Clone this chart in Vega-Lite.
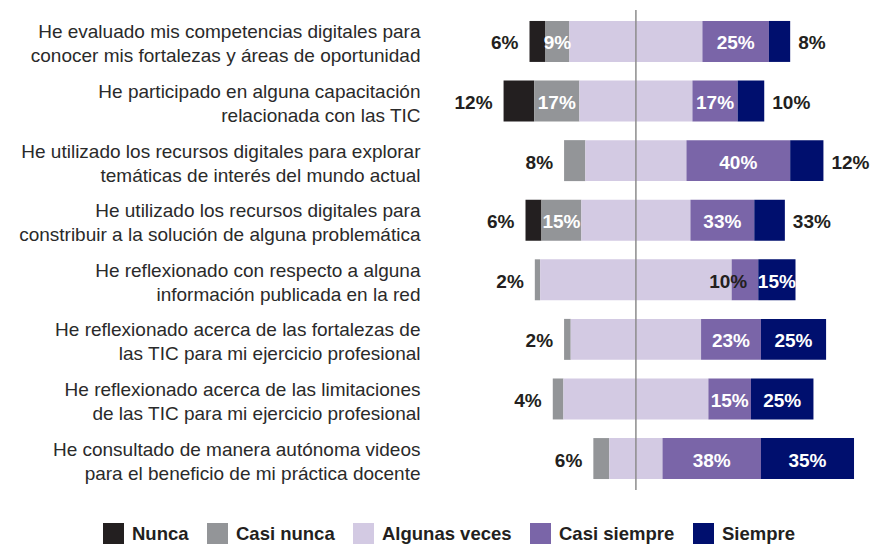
{
  "$schema": "https://vega.github.io/schema/vega-lite/v6.json",
  "autosize": {"type": "none"},
  "width": 399,
  "height": 480,
  "padding": {"left": 463, "top": 10, "right": 12, "bottom": 56},
  "background": "white",
  "config": {"view": {"stroke": null}},
  "data": {"values": [
    {"q": "He evaluado mis competencias digitales para|conocer mis fortalezas y áreas de oportunidad", "cat": "Nunca", "pct": 6, "label": "6%"},
    {"q": "He evaluado mis competencias digitales para|conocer mis fortalezas y áreas de oportunidad", "cat": "Casi nunca", "pct": 9, "label": "9%"},
    {"q": "He evaluado mis competencias digitales para|conocer mis fortalezas y áreas de oportunidad", "cat": "Algunas veces", "pct": 50, "label": ""},
    {"q": "He evaluado mis competencias digitales para|conocer mis fortalezas y áreas de oportunidad", "cat": "Casi siempre", "pct": 25, "label": "25%"},
    {"q": "He evaluado mis competencias digitales para|conocer mis fortalezas y áreas de oportunidad", "cat": "Siempre", "pct": 8, "label": "8%"},
    {"q": "He participado en alguna capacitación|relacionada con las TIC", "cat": "Nunca", "pct": 11.5, "label": "12%"},
    {"q": "He participado en alguna capacitación|relacionada con las TIC", "cat": "Casi nunca", "pct": 17, "label": "17%"},
    {"q": "He participado en alguna capacitación|relacionada con las TIC", "cat": "Algunas veces", "pct": 42.5, "label": ""},
    {"q": "He participado en alguna capacitación|relacionada con las TIC", "cat": "Casi siempre", "pct": 17, "label": "17%"},
    {"q": "He participado en alguna capacitación|relacionada con las TIC", "cat": "Siempre", "pct": 10, "label": "10%"},
    {"q": "He utilizado los recursos digitales para explorar|temáticas de interés del mundo actual", "cat": "Casi nunca", "pct": 8, "label": "8%"},
    {"q": "He utilizado los recursos digitales para explorar|temáticas de interés del mundo actual", "cat": "Algunas veces", "pct": 38, "label": ""},
    {"q": "He utilizado los recursos digitales para explorar|temáticas de interés del mundo actual", "cat": "Casi siempre", "pct": 39, "label": "40%"},
    {"q": "He utilizado los recursos digitales para explorar|temáticas de interés del mundo actual", "cat": "Siempre", "pct": 12.5, "label": "12%"},
    {"q": "He utilizado los recursos digitales para|constribuir a la solución de alguna problemática", "cat": "Nunca", "pct": 6, "label": "6%"},
    {"q": "He utilizado los recursos digitales para|constribuir a la solución de alguna problemática", "cat": "Casi nunca", "pct": 15, "label": "15%"},
    {"q": "He utilizado los recursos digitales para|constribuir a la solución de alguna problemática", "cat": "Algunas veces", "pct": 41, "label": ""},
    {"q": "He utilizado los recursos digitales para|constribuir a la solución de alguna problemática", "cat": "Casi siempre", "pct": 24, "label": "33%"},
    {"q": "He utilizado los recursos digitales para|constribuir a la solución de alguna problemática", "cat": "Siempre", "pct": 11.5, "label": "33%"},
    {"q": "He reflexionado con respecto a alguna|información publicada en la red", "cat": "Casi nunca", "pct": 2, "label": "2%"},
    {"q": "He reflexionado con respecto a alguna|información publicada en la red", "cat": "Algunas veces", "pct": 72, "label": ""},
    {"q": "He reflexionado con respecto a alguna|información publicada en la red", "cat": "Casi siempre", "pct": 10, "label": "10%"},
    {"q": "He reflexionado con respecto a alguna|información publicada en la red", "cat": "Siempre", "pct": 14, "label": "15%"},
    {"q": "He reflexionado acerca de las fortalezas de|las TIC para mi ejercicio profesional", "cat": "Casi nunca", "pct": 2.5, "label": "2%"},
    {"q": "He reflexionado acerca de las fortalezas de|las TIC para mi ejercicio profesional", "cat": "Algunas veces", "pct": 49, "label": ""},
    {"q": "He reflexionado acerca de las fortalezas de|las TIC para mi ejercicio profesional", "cat": "Casi siempre", "pct": 22.5, "label": "23%"},
    {"q": "He reflexionado acerca de las fortalezas de|las TIC para mi ejercicio profesional", "cat": "Siempre", "pct": 24.5, "label": "25%"},
    {"q": "He reflexionado acerca de las limitaciones|de las TIC para mi ejercicio profesional", "cat": "Casi nunca", "pct": 4, "label": "4%"},
    {"q": "He reflexionado acerca de las limitaciones|de las TIC para mi ejercicio profesional", "cat": "Algunas veces", "pct": 54.5, "label": ""},
    {"q": "He reflexionado acerca de las limitaciones|de las TIC para mi ejercicio profesional", "cat": "Casi siempre", "pct": 16, "label": "15%"},
    {"q": "He reflexionado acerca de las limitaciones|de las TIC para mi ejercicio profesional", "cat": "Siempre", "pct": 23.5, "label": "25%"},
    {"q": "He consultado de manera autónoma videos|para el beneficio de mi práctica docente", "cat": "Casi nunca", "pct": 6, "label": "6%"},
    {"q": "He consultado de manera autónoma videos|para el beneficio de mi práctica docente", "cat": "Algunas veces", "pct": 20, "label": ""},
    {"q": "He consultado de manera autónoma videos|para el beneficio de mi práctica docente", "cat": "Casi siempre", "pct": 37, "label": "38%"},
    {"q": "He consultado de manera autónoma videos|para el beneficio de mi práctica docente", "cat": "Siempre", "pct": 35, "label": "35%"}
  ]},
  "transform": [
    {"calculate": "indexof(['Nunca','Casi nunca','Algunas veces','Casi siempre','Siempre'], datum.cat)", "as": "ord"},
    {"calculate": "datum.ord < 2 ? datum.pct : (datum.ord == 2 ? datum.pct / 2 : 0)", "as": "leftpart"},
    {"joinaggregate": [{"op": "sum", "field": "leftpart", "as": "off"}], "groupby": ["q"]},
    {"window": [{"op": "sum", "field": "pct", "as": "cum"}], "sort": [{"field": "ord", "order": "ascending"}], "groupby": ["q"], "frame": [null, 0]},
    {"calculate": "datum.cum - datum.off", "as": "x1"},
    {"calculate": "datum.x1 - datum.pct", "as": "x0"},
    {"calculate": "(datum.x0 + datum.x1) / 2", "as": "mid"}
  ],
  "encoding": {
    "y": {
      "field": "q", "type": "nominal", "sort": null,
      "scale": {"paddingInner": 0.3125, "paddingOuter": 0.184},
      "axis": {"title": null, "domain": false, "ticks": false, "labelExpr": "split(datum.value, '|')", "labelFont": "Liberation Sans", "labelFontSize": 19, "labelColor": "#2a2a2a", "labelPadding": 43, "labelLimit": 0, "labelLineHeight": 24, "labelOffset": -9}
    }
  },
  "layer": [
    {
      "mark": {"type": "bar"},
      "encoding": {
        "x": {"field": "x0", "type": "quantitative", "scale": {"domain": [-65, 85], "nice": false, "zero": false}, "axis": null},
        "x2": {"field": "x1"},
        "color": {
          "field": "cat", "type": "nominal",
          "scale": {"domain": ["Nunca", "Casi nunca", "Algunas veces", "Casi siempre", "Siempre"], "range": ["#231f20", "#939598", "#d3cae3", "#7a65a8", "#000f6e"]},
          "legend": {"orient": "none", "legendX": -360, "legendY": 513, "direction": "horizontal", "title": null, "symbolType": "square", "symbolSize": 441, "symbolStrokeWidth": 0, "symbolOpacity": 1, "labelFont": "Liberation Sans", "labelFontSize": 18.5, "labelFontWeight": "bold", "labelColor": "#231f20", "labelOffset": 8, "columnPadding": 18}
        }
      }
    },
    {
      "transform": [{"filter": "datum.cat === 'Nunca' || (datum.cat === 'Casi nunca' && datum.pct < 9)"}],
      "mark": {"type": "text", "align": "right", "baseline": "middle", "dx": -11, "dy": 2, "font": "Liberation Sans", "fontSize": 19, "fontWeight": "bold", "color": "#231f20"},
      "encoding": {"x": {"field": "x0", "type": "quantitative"}, "text": {"field": "label"}}
    },
    {
      "transform": [{"filter": "(datum.cat === 'Casi nunca' && datum.pct >= 9) || (datum.cat === 'Casi siempre' && datum.pct >= 12) || (datum.cat === 'Siempre' && datum.pct >= 13)"}],
      "mark": {"type": "text", "align": "center", "baseline": "middle", "dy": 2, "font": "Liberation Sans", "fontSize": 19, "fontWeight": "bold", "color": "white"},
      "encoding": {"x": {"field": "mid", "type": "quantitative"}, "text": {"field": "label"}}
    },
    {
      "transform": [{"filter": "datum.cat === 'Siempre' && datum.pct < 13"}],
      "mark": {"type": "text", "align": "left", "baseline": "middle", "dx": 8, "dy": 2, "font": "Liberation Sans", "fontSize": 19, "fontWeight": "bold", "color": "#231f20"},
      "encoding": {"x": {"field": "x1", "type": "quantitative"}, "text": {"field": "label"}}
    },
    {
      "transform": [{"filter": "datum.cat === 'Casi siempre' && datum.pct < 12"}],
      "mark": {"type": "text", "align": "right", "baseline": "middle", "dx": -11, "dy": 2, "font": "Liberation Sans", "fontSize": 19, "fontWeight": "bold", "color": "#231f20"},
      "encoding": {"x": {"field": "x1", "type": "quantitative"}, "text": {"field": "label"}}
    },
    {
      "transform": [{"aggregate": [{"op": "count", "as": "n"}]}],
      "mark": {"type": "rule", "color": "#8c8c8c", "strokeWidth": 1.5},
      "encoding": {"x": {"datum": 0, "type": "quantitative"}, "y": null}
    }
  ]
}
